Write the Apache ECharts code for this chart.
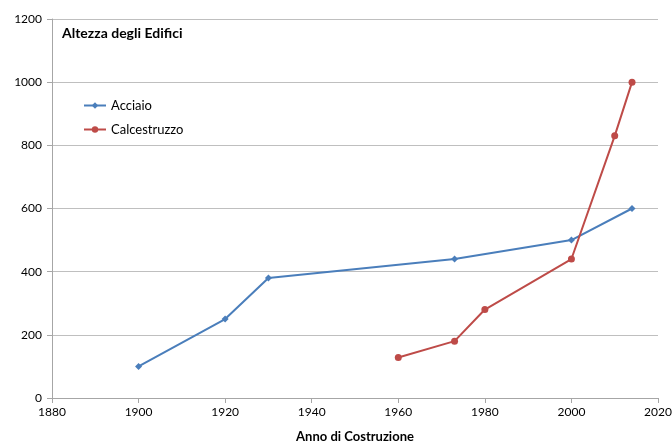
<!DOCTYPE html>
<html>
<head>
<meta charset="utf-8">
<script src="https://cdn.jsdelivr.net/npm/echarts@6/dist/echarts.min.js"></script>
<style>
html,body{margin:0;padding:0;background:#fff;}
#chart{width:672px;height:443px;}
</style>
</head>
<body>
<div id="chart"></div>
<script>
// Building heights by year of construction
const acciaioYears = [1900, 1920, 1930, 1973, 2000, 2014];
const acciaioHeights = [100, 250, 380, 440, 500, 600];
const calcYears = [1960, 1973, 1980, 2000, 2010, 2014];
const calcHeights = [128, 180, 280, 440, 830, 1000];

const font = 'Lato, "Open Sans", sans-serif';
const plain = v => String(v);

const chart = echarts.init(document.getElementById('chart'));
chart.setOption({
  animation: false,
  backgroundColor: '#fff',
  textStyle: { fontFamily: font },
  title: {
    text: 'Altezza degli Edifici',
    left: 57, top: 21,
    textStyle: { fontFamily: font, fontSize: 14, fontWeight: 'bold', color: '#000' }
  },
  legend: {
    orient: 'vertical',
    left: 78, top: 94,
    itemGap: 11,
    itemWidth: 22, itemHeight: 8,
    textStyle: { fontFamily: font, fontSize: 13, color: '#000' },
    data: ['Acciaio', 'Calcestruzzo']
  },
  grid: { left: 52, right: 14, top: 19, bottom: 45, outerBoundsMode: 'none', containLabel: false },
  xAxis: {
    type: 'value', min: 1880, max: 2020, interval: 20,
    name: 'Anno di Costruzione', nameLocation: 'middle', nameGap: 32,
    nameTextStyle: { fontFamily: font, fontSize: 13, fontWeight: 'bold', color: '#000' },
    axisLine: { show: true, lineStyle: { color: '#a6a6a6' } },
    axisTick: { show: true, length: 5, lineStyle: { color: '#a6a6a6' } },
    axisLabel: { fontFamily: font, fontSize: 12, color: '#000', margin: 8, formatter: plain },
    splitLine: { show: false }
  },
  yAxis: {
    type: 'value', min: 0, max: 1200, interval: 200,
    axisLine: { show: true, lineStyle: { color: '#a6a6a6' } },
    axisTick: { show: true, length: 5, lineStyle: { color: '#a6a6a6' } },
    axisLabel: { fontFamily: font, fontSize: 12, color: '#000', margin: 10, formatter: plain },
    splitLine: { show: true, lineStyle: { color: '#bfbfbf', width: 1 } }
  },
  series: [
    {
      name: 'Acciaio', type: 'line',
      data: acciaioYears.map((y, i) => [y, acciaioHeights[i]]),
      symbol: 'diamond', symbolSize: 7,
      lineStyle: { color: '#4a7ebb', width: 2 },
      itemStyle: { color: '#4a7ebb' }
    },
    {
      name: 'Calcestruzzo', type: 'line',
      data: calcYears.map((y, i) => [y, calcHeights[i]]),
      symbol: 'circle', symbolSize: 7,
      lineStyle: { color: '#be4b48', width: 2 },
      itemStyle: { color: '#be4b48' }
    }
  ]
});
</script>
</body>
</html>
